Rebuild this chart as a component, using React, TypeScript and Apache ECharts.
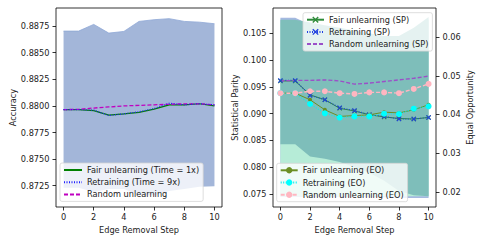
import React, { useEffect, useRef } from "react";
import * as echarts from "echarts";

const steps = ["0", "1", "2", "3", "4", "5", "6", "7", "8", "9", "10"];
const accTicks = [0.8725, 0.875, 0.8775, 0.88, 0.8825, 0.885, 0.8875];
const spTicks = [0.075, 0.08, 0.085, 0.09, 0.095, 0.1, 0.105];
const eoTicks = [0.02, 0.03, 0.04, 0.05, 0.06];

// Left panel: accuracy
const accFair = [0.87965, 0.87965, 0.87955, 0.87913, 0.87925, 0.8794, 0.8797, 0.8801, 0.8801, 0.8802, 0.88];
const accRetrain = [0.87965, 0.87965, 0.8796, 0.8791, 0.87925, 0.87945, 0.87975, 0.88025, 0.8801, 0.8802, 0.8801];
const accRandom = [0.87965, 0.87968, 0.8798, 0.8799, 0.88, 0.88005, 0.8801, 0.88015, 0.8802, 0.8802, 0.8801];
const accUpper = [0.88703, 0.88703, 0.88766, 0.88684, 0.887, 0.88794, 0.8881, 0.8882, 0.88794, 0.88787, 0.88772];
const accLower = [0.8723, 0.8723, 0.8719, 0.8722, 0.8722, 0.8716, 0.8716, 0.872, 0.8722, 0.8724, 0.87244];

// Right panel: statistical parity (left axis)
const spFair = [0.0961, 0.0961, 0.0935, 0.0926, 0.091, 0.0905, 0.0898, 0.0894, 0.0891, 0.089, 0.0893];
const spRetrain = [0.0962, 0.0962, 0.0934, 0.0926, 0.0911, 0.0906, 0.0898, 0.0895, 0.089, 0.089, 0.0893];
const spRandom = [0.0961, 0.0962, 0.0962, 0.0963, 0.0961, 0.0955, 0.0957, 0.096, 0.0963, 0.0966, 0.097];

// Right panel: equal opportunity (right axis)
const eoFair = [0.0455, 0.0455, 0.0438, 0.0412, 0.0395, 0.0397, 0.0399, 0.0406, 0.0404, 0.0412, 0.0425];
const eoRetrain = [0.0455, 0.0455, 0.0427, 0.0403, 0.0392, 0.0395, 0.0395, 0.0402, 0.0401, 0.0415, 0.0421];
const eoRandom = [0.0455, 0.0455, 0.046, 0.046, 0.0455, 0.0453, 0.0457, 0.0457, 0.0455, 0.0466, 0.0479];

// Right panel variance bands (on SP axis)
const bandBlueUpper = [0.1079, 0.1079, 0.1066, 0.1062, 0.1058, 0.1053, 0.1048, 0.1043, 0.1043, 0.1058, 0.1076];
const bandBlueLower = [0.0745, 0.0745, 0.0745, 0.0745, 0.0745, 0.0745, 0.0745, 0.0744, 0.0743, 0.0743, 0.0743];
const bandMintUpper = [0.107, 0.107, 0.1065, 0.106, 0.1055, 0.105, 0.1045, 0.104, 0.104, 0.1055, 0.1075];
const bandMintLower = [0.0746, 0.0746, 0.0746, 0.0746, 0.0746, 0.0746, 0.0746, 0.0746, 0.0746, 0.0746, 0.0746];
const bandTealUpper = [0.1075, 0.1075, 0.107, 0.1065, 0.106, 0.1055, 0.105, 0.1045, 0.1045, 0.106, 0.108];
const bandTealLower = [0.0843, 0.0843, 0.082, 0.0816, 0.081, 0.08, 0.079, 0.0775, 0.0756, 0.0748, 0.0746];

const FONT = "DejaVu Sans";
const FS = 8.2;
const X_SYMBOL = "path://M0,1.5 L1.5,0 L5,3.5 L8.5,0 L10,1.5 L6.5,5 L10,8.5 L8.5,10 L5,6.5 L1.5,10 L0,8.5 L3.5,5 Z";
const HIDDEN_ICON_STYLE = { opacity: 0, color: "rgba(0,0,0,0)", borderWidth: 0 };

function band(id: string, lower: number[], upper: number[], color: string, xi: number, yi: number, edge?: string) {
  return [
    {
      type: "line", name: id + "_base", xAxisIndex: xi, yAxisIndex: yi, stack: id,
      data: lower, symbol: "none", lineStyle: { opacity: 0 }, silent: true, z: 1,
    },
    {
      type: "line", name: id + "_fill", xAxisIndex: xi, yAxisIndex: yi, stack: id,
      data: upper.map((u, i) => u - lower[i]), symbol: "none",
      lineStyle: edge ? { color: edge, width: 0.8 } : { opacity: 0 },
      areaStyle: { color, opacity: 1 }, silent: true, z: 1,
    },
  ];
}

function xAxis(gridIndex: number) {
  return {
    type: "category", gridIndex, data: steps, boundaryGap: true,
    splitLine: { show: false }, axisLine: { show: false },
    axisTick: { show: true, alignWithLabel: true, interval: 1, length: 3.5, lineStyle: { color: "#000", width: 0.8 } },
    axisLabel: { interval: 1, fontSize: FS, fontFamily: FONT, color: "#222", margin: 6 },
    name: "Edge Removal Step", nameLocation: "middle", nameGap: 18.5,
    nameTextStyle: { fontSize: FS, fontFamily: FONT, color: "#222" },
  };
}

function yAxis(gridIndex: number, min: number, max: number, ticks: number[], digits: number, name: string, position: string, nameGap: number) {
  return {
    type: "value", gridIndex, min, max, position,
    splitLine: { show: false }, axisLine: { show: false },
    axisTick: { show: true, customValues: ticks, length: 3.5, lineStyle: { color: "#000", width: 0.8 } },
    axisLabel: {
      customValues: ticks, fontSize: FS, fontFamily: FONT, color: "#222", margin: 6.5,
      formatter: (v: number) => v.toFixed(digits),
    },
    name, nameLocation: "middle", nameGap, nameRotate: 90,
    nameTextStyle: { fontSize: FS, fontFamily: FONT, color: "#222" },
  };
}

function legend(left: number, top: number, data: any[], itemWidth: number) {
  return {
    left, top, orient: "vertical", data, itemWidth, itemHeight: 8, itemGap: 4.2,
    textStyle: { fontSize: FS, fontFamily: FONT, color: "#222" },
    padding: [3, 4, 3, 3], borderColor: "#d4d4d4", borderWidth: 0.8, borderRadius: 2,
    backgroundColor: "rgba(255,255,255,0.8)", selectedMode: false,
  };
}

export default function App() {
  const ref = useRef<HTMLDivElement>(null);
  useEffect(() => {
    if (!ref.current) return;
    const chart = echarts.init(ref.current, null, { renderer: "svg" });
    const option: any = {
      animation: false,
      backgroundColor: "#fff",
      grid: [
        { left: 56, top: 8, width: 166, height: 199, show: true, borderColor: "#000", borderWidth: 0.8, backgroundColor: "transparent" },
        { left: 273, top: 8, width: 163, height: 199, show: true, borderColor: "#000", borderWidth: 0.8, backgroundColor: "transparent" },
      ],
      xAxis: [xAxis(0), xAxis(1)],
      yAxis: [
        yAxis(0, 0.8705, 0.8892, accTicks, 4, "Accuracy", "left", 38.5),
        yAxis(1, 0.0726, 0.1097, spTicks, 3, "Statistical Parity", "left", 34),
        yAxis(1, 0.0161, 0.0675, eoTicks, 2, "Equal Opportunity", "right", 30),
      ],
      legend: [
        legend(60, 163, [
          { name: "Fair unlearning (Time = 1x)", itemStyle: HIDDEN_ICON_STYLE },
          { name: "Retraining (Time = 9x)", itemStyle: HIDDEN_ICON_STYLE },
          { name: "Random unlearning", itemStyle: HIDDEN_ICON_STYLE },
        ], 18),
        legend(303, 12.7, [
          { name: "Fair unlearning (SP)" },
          { name: "Retraining (SP)" },
          { name: "Random unlearning (SP)", itemStyle: HIDDEN_ICON_STYLE },
        ], 17),
        legend(276.7, 163.3, [
          { name: "Fair unlearning (EO)" },
          { name: "Retraining (EO)" },
          { name: "Random unlearning (EO)" },
        ], 17),
      ],
      series: [
        ...band("acc", accLower, accUpper, "#a3b6d9", 0, 0, "#8ea7d6"),
        {
          type: "line", name: "Fair unlearning (Time = 1x)", xAxisIndex: 0, yAxisIndex: 0, data: accFair,
          symbol: "none", lineStyle: { color: "#008000", width: 1.2 }, itemStyle: { color: "#008000" }, z: 3,
        },
        {
          type: "line", name: "Retraining (Time = 9x)", xAxisIndex: 0, yAxisIndex: 0, data: accRetrain,
          symbol: "none", lineStyle: { color: "#2020ff", width: 1.2, type: [1, 1.5] }, itemStyle: { color: "#2020ff" }, z: 4,
        },
        {
          type: "line", name: "Random unlearning", xAxisIndex: 0, yAxisIndex: 0, data: accRandom,
          symbol: "none", lineStyle: { color: "#c000c0", width: 1.3, type: [4, 2] }, itemStyle: { color: "#c000c0" }, z: 3,
        },

        ...band("blue", bandBlueLower, bandBlueUpper, "#a5b9e0", 1, 1),
        ...band("mint", bandMintLower, bandMintUpper, "#b6ecd7", 1, 1),
        ...band("teal", bandTealLower, bandTealUpper, "#7ebeba", 1, 1),

        {
          type: "line", name: "Fair unlearning (SP)", xAxisIndex: 1, yAxisIndex: 1, data: spFair,
          symbol: X_SYMBOL, symbolSize: 5, lineStyle: { color: "#2e8b3a", width: 1 }, itemStyle: { color: "#2e8b3a" }, z: 3,
        },
        {
          type: "line", name: "Retraining (SP)", xAxisIndex: 1, yAxisIndex: 1, data: spRetrain,
          symbol: X_SYMBOL, symbolSize: 5, lineStyle: { color: "#2040e0", width: 1.1, type: [1, 1.5] }, itemStyle: { color: "#2040e0" }, z: 3,
        },
        {
          type: "line", name: "Random unlearning (SP)", xAxisIndex: 1, yAxisIndex: 1, data: spRandom,
          symbol: "none", lineStyle: { color: "#9b4fc8", width: 1.4, type: [4, 2] }, itemStyle: { color: "#9b4fc8" }, z: 3,
        },
        {
          type: "line", name: "Fair unlearning (EO)", xAxisIndex: 1, yAxisIndex: 2, data: eoFair,
          symbol: "circle", symbolSize: 4, lineStyle: { color: "#6b8e23", width: 1 }, itemStyle: { color: "#6b8e23" }, z: 3,
        },
        {
          type: "line", name: "Retraining (EO)", xAxisIndex: 1, yAxisIndex: 2, data: eoRetrain,
          symbol: "circle", symbolSize: 6, lineStyle: { color: "#00f0f0", width: 1.1, type: [1, 1.5] }, itemStyle: { color: "#00ffff" }, z: 3,
        },
        {
          type: "line", name: "Random unlearning (EO)", xAxisIndex: 1, yAxisIndex: 2, data: eoRandom,
          symbol: "circle", symbolSize: 6, lineStyle: { color: "#ffb6c1", width: 1.4, type: [4, 2] }, itemStyle: { color: "#ffb6c1" }, z: 3,
        },
      ],
    };
    chart.setOption(option);
    return () => chart.dispose();
  }, []);
  return <div ref={ref} style={{ position: "absolute", left: 0, top: 0, width: 485, height: 243 }} />;
}
